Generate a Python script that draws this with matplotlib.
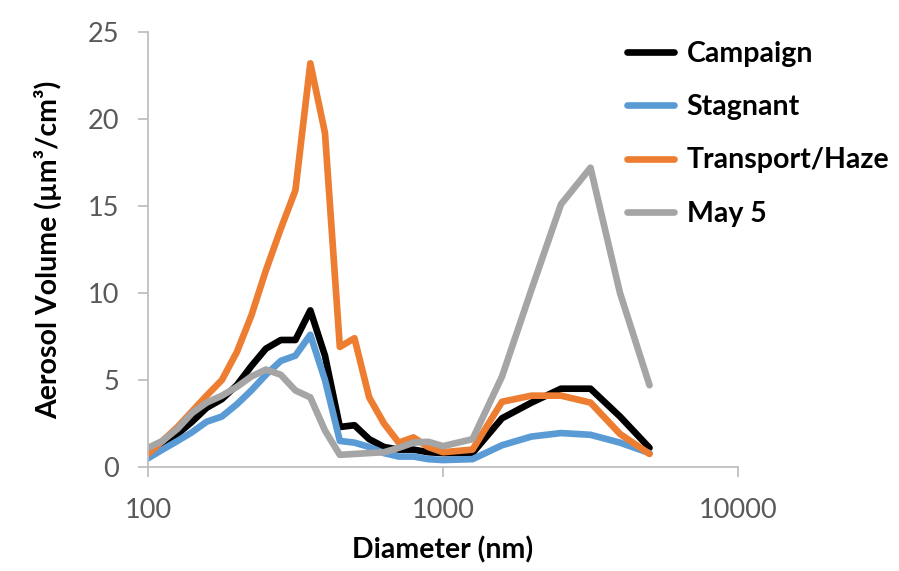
import matplotlib
matplotlib.use('Agg')
import matplotlib.pyplot as plt
from matplotlib.ticker import FixedLocator, NullLocator

plt.rcParams['font.family'] = ['Lato', 'DejaVu Sans']

# particle diameter bins (nm)
diameters = [100, 112, 126, 141, 158, 178, 200, 224, 251, 282, 316, 355, 398,
             447, 501, 562, 631, 708, 794, 891, 1000, 1259, 1585, 1995, 2512,
             3162, 3981, 5012]

campaign = [0.7, 1.3, 1.9, 2.6, 3.4, 3.9, 4.7, 5.8, 6.8, 7.3, 7.3, 9.0, 6.4,
            2.3, 2.4, 1.6, 1.15, 1.0, 1.0, 0.85, 0.8, 0.8, 2.8, 3.7, 4.5,
            4.5, 2.9, 1.1]
stagnant = [0.5, 1.0, 1.5, 2.0, 2.6, 2.9, 3.6, 4.4, 5.3, 6.1, 6.4, 7.6, 5.0,
            1.5, 1.4, 1.15, 0.8, 0.6, 0.6, 0.45, 0.4, 0.45, 1.25, 1.75, 1.95,
            1.85, 1.4, 0.8]
transport = [0.75, 1.5, 2.3, 3.2, 4.1, 5.0, 6.6, 8.7, 11.3, 13.7, 15.9, 23.2,
             19.2, 6.9, 7.4, 4.0, 2.5, 1.4, 1.7, 1.15, 0.85, 1.0, 3.75, 4.1,
             4.1, 3.7, 1.9, 0.75]
may5 = [1.1, 1.5, 2.2, 3.1, 3.7, 4.1, 4.6, 5.2, 5.6, 5.3, 4.4, 4.0, 2.1,
        0.7, 0.75, 0.8, 0.85, 1.1, 1.4, 1.45, 1.2, 1.6, 5.2, 10.2, 15.1,
        17.2, 10.0, 4.7]

series = [
    ('Campaign', campaign, '#000000'),
    ('Stagnant', stagnant, '#5B9BD5'),
    ('Transport/Haze', transport, '#ED7D31'),
    ('May 5', may5, '#A5A5A5'),
]

fig = plt.figure(figsize=(8.99, 5.71), dpi=100)
ax = fig.add_axes([148/899, 1-467/571, 590/899, 435/571])

for name, vals, col in series:
    ax.plot(diameters, vals, color=col, lw=4.8, label=name,
            solid_joinstyle='round', solid_capstyle='round')

ax.set_xscale('log')
ax.set_xlim(100, 10000)
ax.set_ylim(0, 25)
ax.xaxis.set_major_locator(FixedLocator([100, 1000, 10000]))
ax.xaxis.set_minor_locator(NullLocator())
ax.set_xticklabels(['100', '1000', '10000'])
ax.set_yticks([0, 5, 10, 15, 20, 25])

for s in ['top', 'right']:
    ax.spines[s].set_visible(False)
for s in ['left', 'bottom']:
    ax.spines[s].set_color('#BFBFBF')
    ax.spines[s].set_linewidth(1.3)
ax.tick_params(axis='both', colors='#BFBFBF', labelcolor='#595959',
               labelsize=19.5, length=7, width=1.3)
ax.tick_params(axis='x', pad=15)
ax.tick_params(axis='y', pad=14)

ax.set_xlabel('Diameter (nm)', fontsize=20.5, fontweight='bold', labelpad=10)
ax.set_ylabel('Aerosol Volume (µm³/cm³)', fontsize=20.5, fontweight='bold',
              labelpad=18)

fig.legend(loc='upper left', bbox_to_anchor=(616/899, 1-30/571),
           frameon=False, prop={'weight': 'bold', 'size': 20.5},
           borderaxespad=0, handlelength=1.62, handletextpad=0.46,
           labelspacing=0.95)

fig.savefig('out.png', dpi=100)
